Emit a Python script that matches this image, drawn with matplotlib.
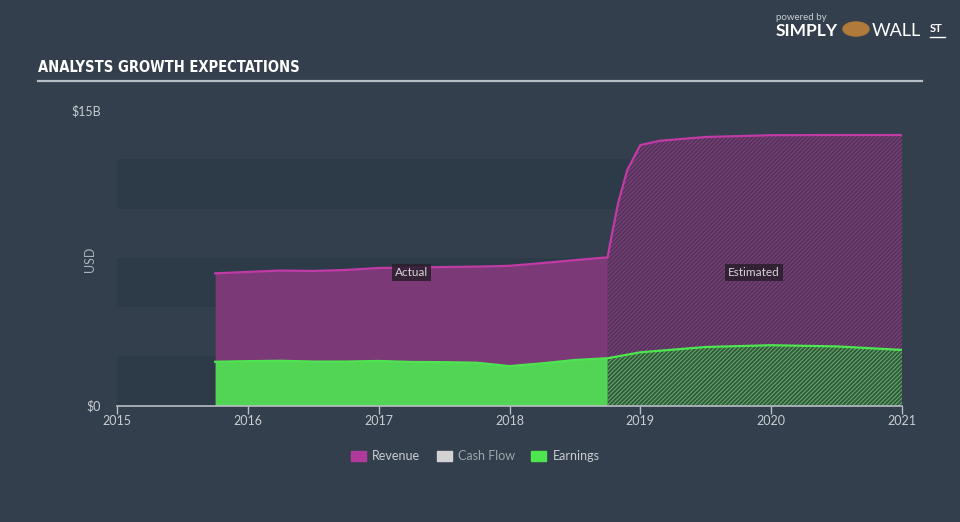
import matplotlib
matplotlib.use("Agg")
import matplotlib.pyplot as plt
from matplotlib.patches import Patch, Circle

# values in $B
rev_actual_years = [2015.75, 2016.0, 2016.25, 2016.5, 2016.75, 2017.0, 2017.25, 2017.5, 2017.75, 2018.0, 2018.25, 2018.5, 2018.75]
rev_actual = [6.71, 6.78, 6.85, 6.83, 6.88, 6.98, 7.0, 7.03, 7.05, 7.09, 7.23, 7.38, 7.52]
rev_est_years = [2018.75, 2018.77, 2018.83, 2018.9, 2019.0, 2019.15, 2019.5, 2020.0, 2020.5, 2021.0]
rev_est = [7.52, 8.25, 10.27, 11.95, 13.22, 13.44, 13.63, 13.72, 13.73, 13.73]

earn_actual_years = rev_actual_years
earn_actual = [2.22, 2.25, 2.27, 2.23, 2.23, 2.26, 2.21, 2.2, 2.17, 2.0, 2.14, 2.31, 2.4]
earn_est_years = [2018.75, 2019.0, 2019.5, 2020.0, 2020.5, 2021.0]
earn_est = [2.4, 2.7, 2.97, 3.06, 3.0, 2.82]

x_ticks = [2015, 2016, 2017, 2018, 2019, 2020, 2021]
y_ticks = [0, 15]
y_labels = ["$0", "$15B"]
legend_names = ["Revenue", "Cash Flow", "Earnings"]

BG = "#333f4c"
BAND = "#2d3a47"
TXT = "#c9cdd2"

plt.rcParams["hatch.linewidth"] = 0.8
plt.rcParams["font.family"] = ["Lato", "DejaVu Sans"]

fig = plt.figure(figsize=(9.6, 5.22), dpi=100, facecolor=BG)
ax = fig.add_axes([117 / 960, 1 - 405.5 / 522, 785 / 960, 295.5 / 522])
ax.set_facecolor(BG)
ax.set_xlim(2015, 2021)
ax.set_ylim(0, 15)

# alternating bands
for lo in [0, 5, 10]:
    ax.axhspan(lo, lo + 2.5, color=BAND, lw=0, zorder=0)

# revenue
ax.fill_between(rev_actual_years, 0, rev_actual, color="#7b3a77", lw=0, zorder=1)
ax.fill_between(rev_est_years, 0, rev_est, facecolor="#4c3756", edgecolor="#8a3a82",
                hatch="////////", lw=0, zorder=1)
ax.plot(rev_actual_years + rev_est_years[1:], rev_actual + rev_est[1:], color="#c03ba5", lw=1.6, zorder=3)

# earnings
ax.fill_between(earn_actual_years, 0, earn_actual, color="#52d455", lw=0, zorder=2)
ax.fill_between(earn_est_years, 0, earn_est, facecolor="#3a5046", edgecolor="#52b554",
                hatch="////////", lw=0, zorder=2)
ax.plot(earn_actual_years + earn_est_years[1:], earn_actual + earn_est[1:], color="#4ee650", lw=1.6, zorder=3)

for s in ["top", "right", "left"]:
    ax.spines[s].set_visible(False)
ax.spines["bottom"].set_color("#b8bec5")
ax.spines["bottom"].set_linewidth(1.2)
ax.spines["bottom"].set_zorder(4)

ax.set_xticks(x_ticks)
ax.set_xticklabels([str(t) for t in x_ticks])
ax.set_yticks(y_ticks)
ax.set_yticklabels(y_labels)
ax.tick_params(axis="x", colors="#b8bec5", labelcolor=TXT, length=6, width=1, labelsize=9, pad=1)
ax.tick_params(axis="y", length=0, labelcolor=TXT, labelsize=9, pad=11.5)
ax.set_ylabel("USD", color="#aab2ba", fontsize=9)
ax.yaxis.set_label_coords(-0.027, 0.496)

box = dict(boxstyle="square,pad=0.25", fc="#2a1e2c", ec="none", alpha=0.85)
ax.text(2017.25, 6.75, "Actual", color="#d6d6d8", fontsize=8.5, ha="center", va="center", bbox=box, zorder=5)
ax.text(2019.87, 6.75, "Estimated", color="#d6d6d8", fontsize=8.5, ha="center", va="center", bbox=box, zorder=5)

# title and rule
fig.text(38 / 960, 1 - 68 / 522, "ANALYSTS GROWTH EXPECTATIONS", color="white", fontsize=10.5,
         fontweight="bold", fontstretch="condensed", family="DejaVu Sans", va="center")
fig.add_artist(plt.Line2D([38 / 960, 922 / 960], [1 - 81 / 522, 1 - 81 / 522], color="#b8bec5", lw=1.6))

# logo
fig.text(776 / 960, 1 - 17 / 522, "powered by", color="#c9cdd2", fontsize=7, va="center")
fig.text(776 / 960, 1 - 31 / 522, "SIMPLY", color="white", fontsize=12.5, fontweight="bold", va="center")
fig.add_artist(Circle((856 / 960, 1 - 29 / 522), 0.0135, transform=fig.transFigure, color="#b07a3a"))
fig.text(872 / 960, 1 - 31 / 522, "WALL", color="white", fontsize=13, va="center")
fig.text(930 / 960, 1 - 29 / 522, "ST", color="white", fontsize=8, fontweight="bold", va="center")
fig.add_artist(plt.Line2D([930 / 960, 945 / 960], [1 - 37 / 522, 1 - 37 / 522], color="white", lw=1))

# legend
handles = [Patch(color="#b03a9c"), Patch(color="#d3d3d3"), Patch(color="#4ee650")]
leg = fig.legend(handles, legend_names, loc="center", bbox_to_anchor=(0.495, 1 - 456 / 522), ncol=3,
                 frameon=False, fontsize=9, handlelength=1.2, handleheight=0.9, columnspacing=1.3,
                 handletextpad=0.5)
for t, c in zip(leg.get_texts(), [TXT, "#9ea5ad", TXT]):
    t.set_color(c)

fig.savefig("out.png", dpi=100, facecolor=BG)
